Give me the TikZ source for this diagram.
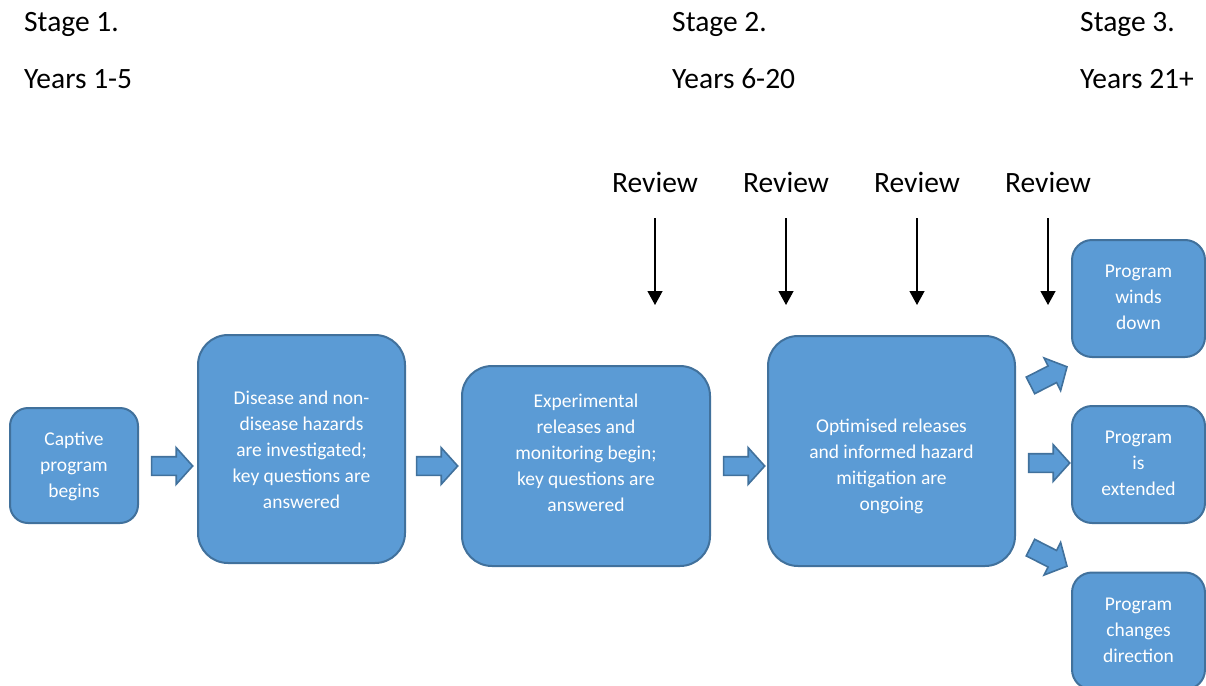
\documentclass[tikz,border=0pt]{standalone}
\usepackage{fontspec}
\setmainfont{Carlito}
\usetikzlibrary{shapes.arrows,arrows.meta}
\definecolor{boxfill}{HTML}{5B9BD5}
\definecolor{boxborder}{HTML}{41719C}
\begin{document}
\begin{tikzpicture}[x=1pt,y=-1pt,
  box/.style={draw=boxborder, fill=boxfill, line width=2pt, inner sep=0pt},
  boxtext/.style={text=white, align=center, font=\fontsize{19.5}{26}\selectfont, inner sep=0pt},
  blockarrow/.style={single arrow, draw=boxborder, fill=boxfill, line width=1.6pt, inner xsep=0pt, inner ysep=8.5pt,
    minimum height=41pt, minimum width=36pt, single arrow head extend=9pt, single arrow tip angle=96},
  headtext/.style={font=\fontsize{29.5}{34}\selectfont, inner sep=0pt, anchor=base west},
  reviewtext/.style={font=\fontsize{29.5}{34}\selectfont, inner sep=0pt, anchor=base},
  reviewarrow/.style={line width=1.3pt, -{Triangle[length=14pt,width=15pt]}}
]
\useasboundingbox (0,0) rectangle (1206,685);

% headings
\node[headtext] (s1) at (24,32) {Stage 1.};
\node[headtext] (y1) at (24,88) {Years 1-5};
\node[headtext] (s2) at (672,32) {Stage 2.};
\node[headtext] (y2) at (672,88) {Years 6-20};
\node[headtext] (s3) at (1080,32) {Stage 3.};
\node[headtext] (y3) at (1080,88) {Years 21+};

% review labels and arrows
\foreach \i/\x in {1/655,2/786,3/917,4/1048}{
  \node[reviewtext] (r\i) at (\x,192) {Review};
  \coordinate (rs\i) at (\x,218);
  \coordinate (re\i) at (\x,305);
  \draw[reviewarrow] (rs\i) -- (re\i);
}

% main boxes
\node[box, rounded corners=18pt, minimum width=128pt, minimum height=115pt] (cap) at (74,465.5) {};
\node[boxtext] (capt) at (74,466) {Captive\\program\\begins};

\node[box, rounded corners=30pt, minimum width=207pt, minimum height=228pt] (dis) at (301.5,449) {};
\node[boxtext] (dist) at (301.5,450) {Disease and non-\\disease hazards\\are investigated;\\key questions are\\answered};

\node[box, rounded corners=30pt, minimum width=248pt, minimum height=200pt] (exp) at (586,466) {};
\node[boxtext] (expt) at (586,453) {Experimental\\releases and\\monitoring begin;\\key questions are\\answered};

\node[box, rounded corners=30pt, minimum width=247pt, minimum height=230pt] (opt) at (891.5,451) {};
\node[boxtext] (optt) at (891.5,466) {Optimised releases\\and informed hazard\\mitigation are\\ongoing};

% outcome boxes
\node[box, rounded corners=20pt, minimum width=133pt, minimum height=117pt] (wd) at (1138.5,298.5) {};
\node[boxtext] (wdt) at (1138.5,297) {Program\\winds\\down};
\node[box, rounded corners=20pt, minimum width=133pt, minimum height=117pt] (ex) at (1138.5,464.5) {};
\node[boxtext] (ext) at (1138.5,463) {Program\\is\\extended};
\node[box, rounded corners=20pt, minimum width=133pt, minimum height=117pt] (cd) at (1138.5,631) {};
\node[boxtext] (cdt) at (1138.5,630) {Program\\changes\\direction};

% block arrows
\node[blockarrow] (a1) at (168,466) {};
\node[blockarrow] (a2) at (433,466) {};
\node[blockarrow] (a3) at (740,466) {};
\node[blockarrow] (a4) at (1045,463) {};
\node[blockarrow, rotate=27] (a5) at (1045,378) {};
\node[blockarrow, rotate=-27] (a6) at (1045,555) {};
\end{tikzpicture}
\end{document}
